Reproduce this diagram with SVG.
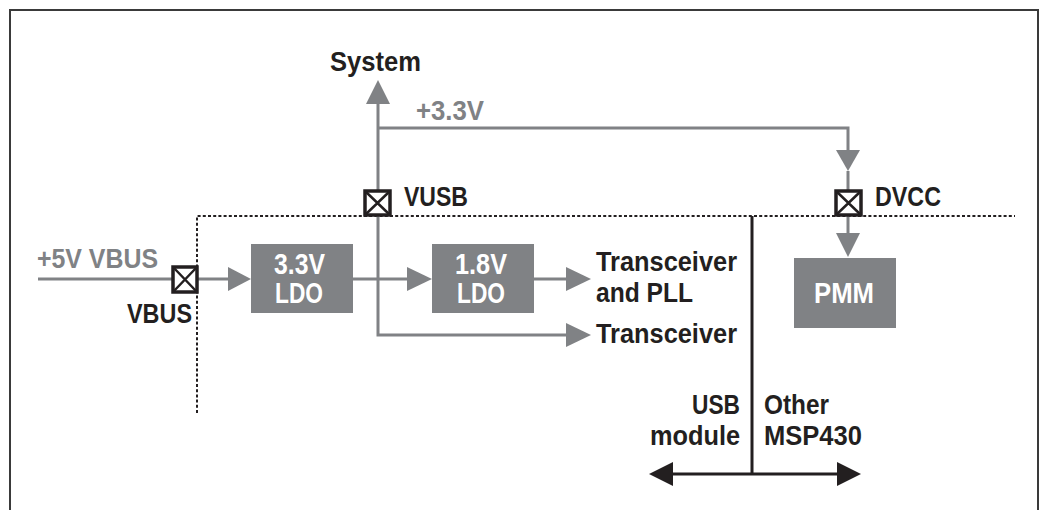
<svg xmlns="http://www.w3.org/2000/svg" width="1042" height="510" viewBox="0 0 1042 510">
<defs>
<style>
.t{font-family:"Liberation Sans",Arial,sans-serif;font-weight:bold;font-size:27px;}
.k{fill:#231f20;}
.g{fill:#808285;}
.w{fill:#ffffff;font-size:29px;}
.gl{stroke:#808285;stroke-width:3;fill:none;}
.bl{stroke:#231f20;stroke-width:3;fill:none;}
.dot{stroke:#231f20;stroke-width:2;stroke-dasharray:3 2.2;fill:none;}
.box{fill:#808285;}
.pin{fill:#ffffff;stroke:#231f20;stroke-width:3.5;}
.px{stroke:#231f20;stroke-width:2.5;}
.ga{fill:#808285;}
.ba{fill:#231f20;}
</style>
</defs>
<rect width="1042" height="510" fill="#ffffff"/>
<path d="M10,512 V10 H1038 V512" fill="none" stroke="#3a3a3a" stroke-width="2"/>
<g id="boundary">
<path class="dot" d="M197,413 V216 H1015"/>
<line class="bl" x1="752" y1="216" x2="752" y2="474"/>
<line class="bl" x1="670" y1="474" x2="840" y2="474"/>
<polygon class="ba" points="649,474 673,462 673,486"/>
<polygon class="ba" points="861,474 837,462 837,486"/>
</g>
<g id="connectors">
<path class="gl" d="M38,279 H230"/>
<polygon class="ga" points="251,279 228,267 228,291"/>
<path class="gl" d="M353,279 H409"/>
<polygon class="ga" points="432,279 407,267 407,291"/>
<path class="gl" d="M534,279 H568"/>
<polygon class="ga" points="591,279 566,267 566,291"/>
<path class="gl" d="M378,103 V335 H568"/>
<polygon class="ga" points="591,335 566,323 566,347"/>
<polygon class="ga" points="378,80 366,104 390,104"/>
<path class="gl" d="M378,128 H848 V152"/>
<polygon class="ga" points="848,171 836,150 860,150"/>
<path class="gl" d="M848,171 V235"/>
<polygon class="ga" points="848,257 836,233 860,233"/>
</g>
<g id="pin-vusb">
<rect class="pin" x="365" y="191" width="25" height="24"/>
<path class="px" d="M365,191 L390,215 M390,191 L365,215"/>
<text class="t k" x="404" y="206" textLength="64" lengthAdjust="spacingAndGlyphs">VUSB</text>
</g>
<g id="pin-dvcc">
<rect class="pin" x="836" y="191" width="25" height="24"/>
<path class="px" d="M836,191 L861,215 M861,191 L836,215"/>
<text class="t k" x="875" y="206" textLength="66" lengthAdjust="spacingAndGlyphs">DVCC</text>
</g>
<g id="pin-vbus">
<rect class="pin" x="173" y="267" width="24" height="25"/>
<path class="px" d="M173,267 L197,292 M197,267 L173,292"/>
<text class="t k" x="127" y="323" textLength="65" lengthAdjust="spacingAndGlyphs">VBUS</text>
</g>
<g id="ldo33">
<rect class="box" x="251" y="244" width="102" height="69"/>
<text class="t w" x="274" y="274" textLength="51" lengthAdjust="spacingAndGlyphs">3.3V</text>
<text class="t w" x="275" y="303" textLength="48" lengthAdjust="spacingAndGlyphs">LDO</text>
</g>
<g id="ldo18">
<rect class="box" x="432" y="244" width="102" height="69"/>
<text class="t w" x="455" y="274" textLength="52" lengthAdjust="spacingAndGlyphs">1.8V</text>
<text class="t w" x="457" y="303" textLength="48" lengthAdjust="spacingAndGlyphs">LDO</text>
</g>
<g id="pmm">
<rect class="box" x="794" y="258" width="102" height="70"/>
<text class="t w" x="814" y="303" textLength="60" lengthAdjust="spacingAndGlyphs">PMM</text>
</g>
<g id="labels">
<text class="t k" x="330" y="71" textLength="91" lengthAdjust="spacingAndGlyphs">System</text>
<text class="t g" x="416" y="120" textLength="68" lengthAdjust="spacingAndGlyphs">+3.3V</text>
<text class="t g" x="37" y="268" textLength="121" lengthAdjust="spacingAndGlyphs">+5V VBUS</text>
<text class="t k" x="596" y="271" textLength="141" lengthAdjust="spacingAndGlyphs">Transceiver</text>
<text class="t k" x="596" y="302" textLength="97" lengthAdjust="spacingAndGlyphs">and PLL</text>
<text class="t k" x="596" y="343" textLength="141" lengthAdjust="spacingAndGlyphs">Transceiver</text>
<text class="t k" x="692" y="414" textLength="48" lengthAdjust="spacingAndGlyphs">USB</text>
<text class="t k" x="650" y="445" textLength="90" lengthAdjust="spacingAndGlyphs">module</text>
<text class="t k" x="764" y="414" textLength="65" lengthAdjust="spacingAndGlyphs">Other</text>
<text class="t k" x="764" y="445" textLength="98" lengthAdjust="spacingAndGlyphs">MSP430</text>
</g>
</svg>
